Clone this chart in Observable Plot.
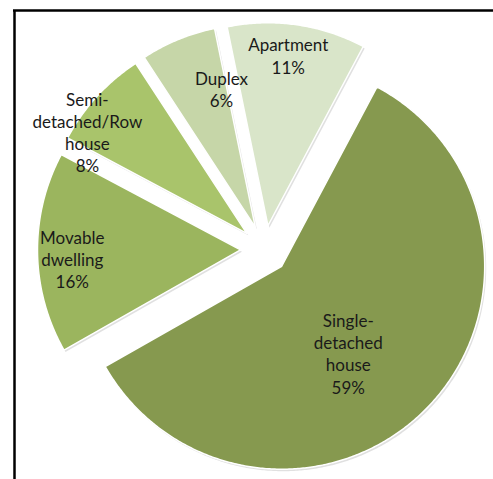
<!DOCTYPE html>
<html><head><meta charset="utf-8">
<script src="https://cdn.jsdelivr.net/npm/d3@7"></script>
<script src="https://cdn.jsdelivr.net/npm/@observablehq/plot@0.6"></script>
<style>html,body{margin:0;padding:0;background:#fff;overflow:hidden}</style>
</head><body><div id="chart"></div>
<script>
// ---- data ----
const categories = ["Single-detached house", "Movable dwelling", "Semi-detached/Row house", "Duplex", "Apartment"];
const labelLines = ["Single-\ndetached\nhouse", "Movable\ndwelling", "Semi-\ndetached/Row\nhouse", "Duplex", "Apartment"];
const shares = [59, 16, 8, 6, 11];
const colors = ["#86994f", "#9bb55e", "#a9c46b", "#c6d6a8", "#d9e5c9"];

// ---- layout ----
const W = 493, H = 479;
const CX = 264, CY = 249, R = 203, EXPLODE = 24, START = 28;
const FRAME_LEFT = 14, FRAME_TOP = 10;
const labelPlace = { // [angle offset deg, radius fraction]
  "Single-detached house": [8.4, 0.54],
  "Movable dwelling": [-2.2, 0.83],
  "Semi-detached/Row house": [-10, 0.93],
  "Duplex": [8.6, 0.70],
  "Apartment": [-1.4, 0.845]
};
const rad = d => d * Math.PI / 180;
const rows = categories.map((c, i) => ({name: c, value: shares[i], label: labelLines[i] + "\n" + shares[i] + "%"}));
const pie = d3.pie().sort(null).value(d => d.value).startAngle(rad(START)).endAngle(rad(START + 360));
const arcs = pie(rows);
const pts = [], labels = [];
for (const a of arcs) {
  const mid = (a.startAngle + a.endAngle) / 2;
  const ox = CX + EXPLODE * Math.sin(mid), oy = CY - EXPLODE * Math.cos(mid);
  pts.push({name: a.data.name, x: ox, y: oy});
  const n = Math.max(2, Math.ceil((a.endAngle - a.startAngle) / rad(0.5)));
  for (let k = 0; k <= n; k++) {
    const t = a.startAngle + (a.endAngle - a.startAngle) * k / n;
    pts.push({name: a.data.name, x: ox + R * Math.sin(t), y: oy - R * Math.cos(t)});
  }
  const [da, f] = labelPlace[a.data.name];
  const lt = mid + rad(da);
  labels.push({name: a.data.name, text: a.data.label, x: ox + f * R * Math.sin(lt), y: oy - f * R * Math.cos(lt)});
}

const chart = Plot.plot({
  width: W, height: H, margin: 0,
  style: {background: "#fff", overflow: "hidden"},
  x: {domain: [0, W], range: [0, W], axis: null},
  y: {domain: [0, H], range: [0, H], axis: null},
  color: {domain: categories, range: colors},
  marks: [
    Plot.line(pts, {x: "x", y: "y", z: "name", fill: "#000", fillOpacity: 0.12, stroke: "none", curve: "linear-closed", dx: 1.5, dy: 2}),
    Plot.line(pts, {x: "x", y: "y", z: "name", fill: "name", stroke: "#fff", strokeWidth: 1.5, strokeLinejoin: "round", curve: "linear-closed"}),
    Plot.text(labels, {x: "x", y: "y", text: "text", fontSize: 17, fontFamily: "Lato", fill: "#1a1a1a", lineHeight: 1.3}),
    Plot.ruleY([FRAME_TOP], {x1: FRAME_LEFT - 1, x2: W, stroke: "#000", strokeWidth: 2.5}),
    Plot.ruleX([FRAME_LEFT], {y1: FRAME_TOP, y2: H, stroke: "#000", strokeWidth: 2.5})
  ]
});
document.getElementById("chart").appendChild(chart);
</script>
</body></html>
